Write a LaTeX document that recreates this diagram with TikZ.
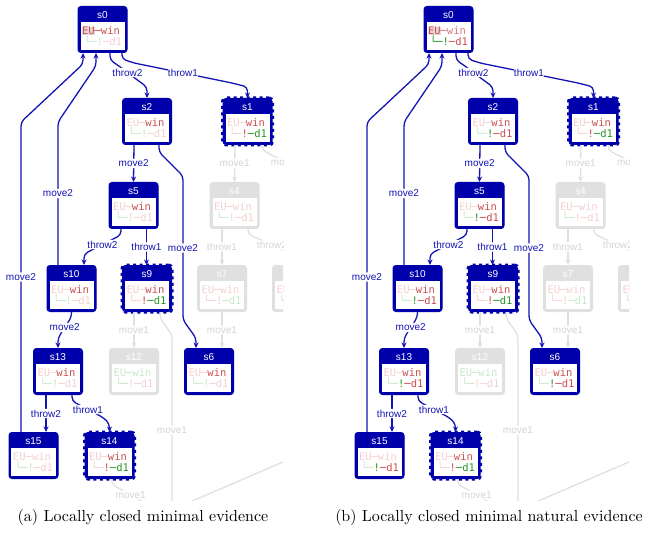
\documentclass[tikz,border=0pt]{standalone}
\usepackage{fontspec}
\setsansfont{Liberation Sans}
\setmonofont{DejaVu Sans Mono}
\usetikzlibrary{arrows.meta}

\definecolor{stblue}{RGB}{0,0,170}
\definecolor{edgeblue}{RGB}{20,20,180}
\definecolor{stgrey}{RGB}{224,224,224}
\definecolor{edgegrey}{RGB}{224,224,224}
\definecolor{lblgrey}{RGB}{212,212,212}
\definecolor{rF}{RGB}{245,208,208}
\definecolor{rM}{RGB}{220,120,120}
\definecolor{rS}{RGB}{205,80,80}
\definecolor{gF}{RGB}{200,232,200}
\definecolor{gS}{RGB}{40,150,40}
\definecolor{hl}{RGB}{228,214,214}

\newcommand{\hdfont}{\fontsize{10}{11}\sffamily}
\newcommand{\bdfont}{\fontsize{10.5}{11}\ttfamily}

% state box: name, EU background, EU, edge, win, child edge, not, d1
\newcommand{\st}[8]{%
  \vbox{%
    \hbox{\parbox[c][13pt][c]{44pt}{\centering\hdfont\textcolor{white}{#1}}}%
    \nointerlineskip
    \hbox{\fboxsep=1.5pt\colorbox{white}{\parbox[c][25pt][c]{41pt}{\raggedright\bdfont\fboxsep=0pt
      \colorbox{#2}{\textcolor{#3}{EU}}\textcolor{#4}{─}\textcolor{#5}{win}\\
      \hspace*{2pt}\textcolor{#6}{└─}\textcolor{#7}{!}\textcolor{#8}{─d1}}}}}}

\begin{document}
\begin{tikzpicture}[x=1pt, y=-1pt,
    stbox/.style={fill=stblue, draw=stblue, line width=1pt, rounded corners=3pt, inner sep=2.5pt},
    final/.style={stbox, postaction={draw=stblue, line width=4pt, dash pattern=on 3pt off 3.5pt}},
    ghoststate/.style={stbox, fill=stgrey, draw=stgrey},
    trans/.style={draw=edgeblue, line width=1.3pt, rounded corners=4pt, -{Stealth[length=5.5pt, width=5pt]}},
    ghost/.style={trans, draw=edgegrey},
    tlabel/.style={fill=white, inner sep=1pt, font=\fontsize{10}{11}\sffamily, text=edgeblue},
    glabel/.style={tlabel, text=lblgrey},
    subcap/.style={scale=1.6, font=\normalsize}
  ]

  \useasboundingbox (0,0) rectangle (648,548);

  \foreach \P/\dx/\nt/\dd/\rw/\re/\cp in {
      a/0/gF/rF/rS/gF/{(a) Locally closed minimal evidence},
      b/346/gS/rS/rM/gS/{(b) Locally closed minimal natural evidence}} {
  \begin{scope}[xshift=\dx]
    \begin{scope}
      \clip (0,0) rectangle (283,500);

      % -------------------------------------------------
      % greyed-out part
      % -------------------------------------------------
      \node[ghoststate] (\P-s4) at (234.5,205.5) {\st{s4}{white}{rF}{rF}{rF}{gF}{rF}{rF}};
      \node[ghoststate] (\P-s7) at (222,288.5) {\st{s7}{white}{rF}{rF}{rF}{rF}{rF}{gF}};
      \node[ghoststate] (\P-s8) at (297,288.5) {\st{s8}{white}{rF}{rF}{rF}{gF}{rF}{rF}};
      \node[ghoststate] (\P-s12) at (134,371.5) {\st{s12}{white}{gF}{gF}{gF}{gF}{rF}{rF}};

      \coordinate (\P-out1) at (310,190);
      \coordinate (\P-out2) at (172,525);
      \coordinate (\P-out3) at (150,506);
      \coordinate (\P-out4) at (190,502);
      \coordinate (\P-out5) at (290,459);

      % -------------------------------------------------
      % states
      % -------------------------------------------------
      \node[stbox] (\P-s0) at (102.5,29.5) {\st{s0}{hl}{rS}{\rw}{\rw}{\re}{\re}{\dd}};
      \node[stbox] (\P-s2) at (147,121.5) {\st{s2}{white}{rF}{rF}{rS}{gF}{\nt}{\dd}};
      \node[final] (\P-s1) at (247.5,121.5) {\st{s1}{white}{rF}{rF}{rS}{rF}{rS}{gS}};
      \node[stbox] (\P-s5) at (133.5,205.5) {\st{s5}{white}{rF}{rF}{rS}{gF}{\nt}{\dd}};
      \node[stbox] (\P-s10) at (71.5,288.5) {\st{s10}{white}{rF}{rF}{rS}{gF}{\nt}{\dd}};
      \node[final] (\P-s9) at (147,288.5) {\st{s9}{white}{rF}{rF}{rS}{rF}{rS}{gS}};
      \node[stbox] (\P-s13) at (58,371.5) {\st{s13}{white}{rF}{rF}{rS}{gF}{\nt}{\dd}};
      \node[stbox] (\P-s6) at (209,371.5) {\st{s6}{white}{rF}{rF}{rS}{gF}{\nt}{\dd}};
      \node[stbox] (\P-s15) at (33.5,455.5) {\st{s15}{white}{rF}{rF}{rF}{gF}{\nt}{\dd}};
      \node[final] (\P-s14) at (109.5,455.5) {\st{s14}{white}{rF}{rF}{rS}{rF}{rS}{gS}};

      % greyed-out moves
      \draw[ghost] ([xshift=-12.5]\P-s1.south) -- node[glabel] (\P-m14) {move1} (\P-s4.north);
      \draw[ghost] ([xshift=14.5]\P-s1.south) -- ++(0,5) -- node[glabel] (\P-m13) {move1} (310,175) -- (\P-out1);
      \draw[ghost] ([xshift=-12.5]\P-s4.south) -- node[glabel] (\P-t47) {throw1} (\P-s7.north);
      \draw[ghost] ([xshift=13.5]\P-s4.south) -- ++(0,5) -- node[glabel] (\P-t48) {throw2} (296,256) -- (\P-s8.north);
      \draw[ghost] ([xshift=-13]\P-s9.south) -- node[glabel] (\P-m912) {move1} (\P-s12.north);
      \draw[ghost] ([xshift=13]\P-s9.south) -- ++(0,6) -- (172,335) -- node[glabel] (\P-m9x) {move1} (\P-out2);
      \draw[ghost] (\P-s7.south) -- node[glabel] (\P-m76) {move1} ([xshift=13]\P-s6.north);
      \draw[ghost] ([xshift=2]\P-s14.south) -- ++(0,5) -- node[glabel] (\P-m14x) {move1} (\P-out3);
      \draw[ghost, -] (\P-out4) -- (\P-out5);

      % moves
      \draw[trans] ([xshift=7.5]\P-s0.south) -- ++(0,7) -- (119,66) -- node[tlabel] (\P-t02) {throw2} (136,79) -- (147,87) -- (\P-s2.north);
      \draw[trans] ([xshift=19.5]\P-s0.south) -- ++(0,6) -- (134,63) -- node[tlabel] (\P-t01) {throw1} (232,83) -- (247.5,87) -- (\P-s1.north);
      \draw[trans] ([xshift=-13]\P-s2.south) -- node[tlabel] (\P-m25) {move2} (\P-s5.north);
      \draw[trans] ([xshift=12]\P-s2.south) -- ++(0,7) -- (183,176) -- node[tlabel] (\P-m26) {move2} (183,320) -- (196,338) -- ([xshift=-13]\P-s6.north);
      \draw[trans] ([xshift=-12.5]\P-s5.south) -- ++(0,6) -- node[tlabel] (\P-t510) {throw2} (84,254) -- ([xshift=12.5]\P-s10.north);
      \draw[trans] ([xshift=13]\P-s5.south) -- node[tlabel] (\P-t59) {throw1} ([xshift=-0.5]\P-s9.north);
      \draw[trans] ([xshift=-13.5]\P-s10.north) -- node[tlabel] (\P-m100) {move2} (58,122) -- (96,66) -- ([xshift=-6.5]\P-s0.south);
      \draw[trans] ([xshift=-12.5]\P-s15.north) -- node[tlabel] (\P-m150) {move2} (21,122) -- (83,64) -- ([xshift=-19.5]\P-s0.south);
      \draw[trans] (\P-s10.south) -- ++(0,5) -- node[tlabel] (\P-m1013) {move2} (58,338) -- (\P-s13.north);
      \draw[trans] ([xshift=-12]\P-s13.south) -- node[tlabel] (\P-t1315) {throw2} ([xshift=12.5]\P-s15.north);
      \draw[trans] ([xshift=14]\P-s13.south) -- ++(0,6) -- node[tlabel] (\P-t1314) {throw1} (104,418) -- (109.5,424) -- (\P-s14.north);
    \end{scope}

    \node[subcap] (\P-cap) at (143,517) {\cp};
  \end{scope}
  }

\end{tikzpicture}
\end{document}
